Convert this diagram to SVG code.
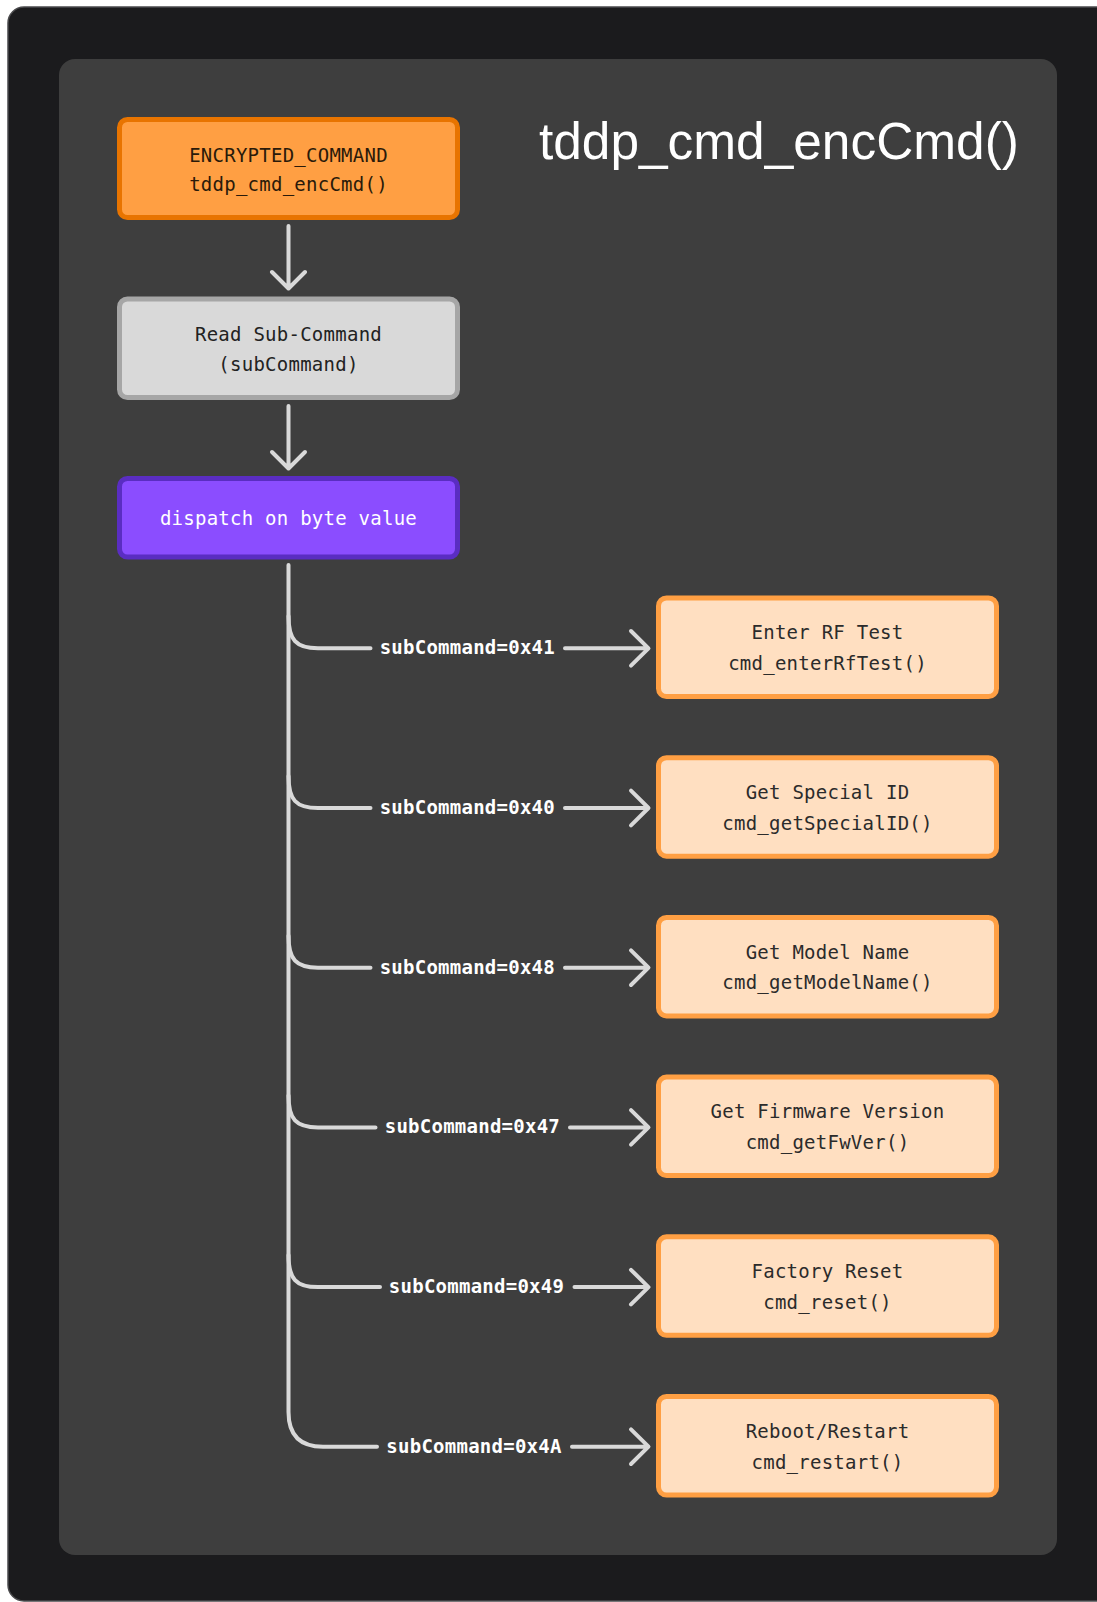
<svg xmlns="http://www.w3.org/2000/svg" width="1097" height="1602" viewBox="0 0 1097 1602">
<style>
.mono{font-family:"DejaVu Sans Mono","Liberation Mono",monospace;font-size:19px;letter-spacing:0.25px;text-anchor:middle}
.node rect{stroke-width:5}
.peach rect{fill:#ffdfc1;stroke:#ff9f43}
.peach text{fill:#2b2b2b}
.lbl{fill:#ffffff;font-weight:bold}
.edge{fill:none;stroke:#d9d9d9;stroke-width:4;stroke-linecap:round;stroke-linejoin:round}
</style>
<rect x="0" y="0" width="1097" height="1602" fill="#ffffff"/>
<rect x="8" y="7" width="1200" height="1594" rx="16" fill="#1b1b1d" stroke="#4a4a4c" stroke-width="1.5"/>
<rect x="59" y="59" width="998" height="1496" rx="16" fill="#3e3e3e"/>
<text x="539" y="159" font-family="'Liberation Sans',Arial,sans-serif" font-size="51.4" fill="#ffffff">tddp_cmd_encCmd()</text>

<g id="connectors">
  <path class="edge" d="M288.5,226 V288 M272,272 L288.5,288.5 L305,272"/>
  <path class="edge" d="M288.5,406 V468 M272,452 L288.5,468.5 L305,452"/>
  <path class="edge" d="M288.5,565 V1412 Q288.5,1446.7 323,1446.7 H377"/>
  <path class="edge" d="M288.5,616 C288.5,640 296,648.3 318,648.3 H370.5"/>
  <path class="edge" d="M288.5,776 C288.5,800 296,808 318,808 H370.5"/>
  <path class="edge" d="M288.5,935.7 C288.5,959.7 296,967.7 318,967.7 H370.5"/>
  <path class="edge" d="M288.5,1095.4 C288.5,1119.4 296,1127.4 318,1127.4 H375.5"/>
  <path class="edge" d="M288.5,1255 C288.5,1279 296,1287.1 318,1287.1 H380"/>
  <path class="edge" d="M565,648.3 H648 M631,631 L648.5,648.3 L631,665.6"/>
  <path class="edge" d="M565,808 H648 M631,790.7 L648.5,808 L631,825.3"/>
  <path class="edge" d="M565,967.7 H648 M631,950.4 L648.5,967.7 L631,985"/>
  <path class="edge" d="M570,1127.4 H648 M631,1110.1 L648.5,1127.4 L631,1144.7"/>
  <path class="edge" d="M574.5,1287.1 H648 M631,1269.8 L648.5,1287.1 L631,1304.4"/>
  <path class="edge" d="M572,1446.7 H648 M631,1429.4 L648.5,1446.7 L631,1464"/>
  <text class="mono lbl" x="467.3" y="654.3">subCommand=0x41</text>
  <text class="mono lbl" x="467.3" y="814">subCommand=0x40</text>
  <text class="mono lbl" x="467.3" y="973.7">subCommand=0x48</text>
  <text class="mono lbl" x="472.4" y="1133.4">subCommand=0x47</text>
  <text class="mono lbl" x="476.5" y="1293.1">subCommand=0x49</text>
  <text class="mono lbl" x="474" y="1452.7">subCommand=0x4A</text>
</g>

<g id="node-encrypted" class="node">
  <rect x="119.5" y="119.5" width="338" height="98" rx="8" fill="#ff9f43" stroke="#e87400"/>
  <text class="mono" x="288.5" y="161.7" fill="#2a1a0a">ENCRYPTED_COMMAND</text>
  <text class="mono" x="288.5" y="190.7" fill="#2a1a0a">tddp_cmd_encCmd()</text>
</g>
<g id="node-read" class="node">
  <rect x="119.5" y="299" width="338" height="98.5" rx="8" fill="#d9d9d9" stroke="#a6a6a6"/>
  <text class="mono" x="288.5" y="340.7" fill="#222222">Read Sub-Command</text>
  <text class="mono" x="288.5" y="370.7" fill="#222222">(subCommand)</text>
</g>
<g id="node-dispatch" class="node">
  <rect x="119.5" y="478.5" width="338" height="78.5" rx="8" fill="#8b4dff" stroke="#5a2dc2"/>
  <text class="mono" x="288.5" y="525" fill="#ffffff">dispatch on byte value</text>
</g>
<g id="node-rftest" class="node peach">
  <rect x="658.5" y="598" width="338" height="98.5" rx="8"/>
  <text class="mono" x="827.5" y="639.3">Enter RF Test</text>
  <text class="mono" x="827.5" y="670">cmd_enterRfTest()</text>
</g>
<g id="node-specialid" class="node peach">
  <rect x="658.5" y="757.7" width="338" height="98.5" rx="8"/>
  <text class="mono" x="827.5" y="799">Get Special ID</text>
  <text class="mono" x="827.5" y="829.7">cmd_getSpecialID()</text>
</g>
<g id="node-modelname" class="node peach">
  <rect x="658.5" y="917.4" width="338" height="98.5" rx="8"/>
  <text class="mono" x="827.5" y="958.7">Get Model Name</text>
  <text class="mono" x="827.5" y="989.4">cmd_getModelName()</text>
</g>
<g id="node-fwver" class="node peach">
  <rect x="658.5" y="1077.1" width="338" height="98.5" rx="8"/>
  <text class="mono" x="827.5" y="1118.4">Get Firmware Version</text>
  <text class="mono" x="827.5" y="1149.1">cmd_getFwVer()</text>
</g>
<g id="node-reset" class="node peach">
  <rect x="658.5" y="1236.8" width="338" height="98.5" rx="8"/>
  <text class="mono" x="827.5" y="1278.1">Factory Reset</text>
  <text class="mono" x="827.5" y="1308.8">cmd_reset()</text>
</g>
<g id="node-restart" class="node peach">
  <rect x="658.5" y="1396.5" width="338" height="98.5" rx="8"/>
  <text class="mono" x="827.5" y="1437.8">Reboot/Restart</text>
  <text class="mono" x="827.5" y="1468.5">cmd_restart()</text>
</g>
</svg>
